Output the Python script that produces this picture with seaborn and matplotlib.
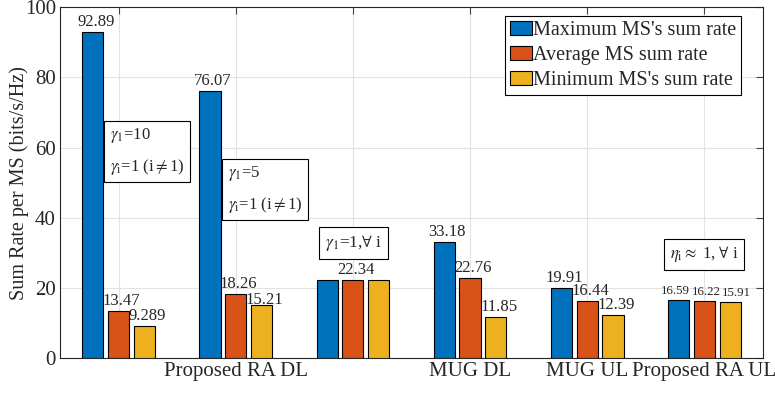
import matplotlib
matplotlib.use("Agg")
import matplotlib.pyplot as plt
import seaborn as sns
import pandas as pd

# Scenario groups and per-MS sum rates
groups = ["g1", "g2", "g3", "g4", "g5", "g6"]
tick_labels = ["", "Proposed RA DL", "", "MUG DL", "MUG UL", "Proposed RA UL"]
series = ["Maximum MS's sum rate", "Average MS sum rate", "Minimum MS's sum rate"]
max_rate = [92.89, 76.07, 22.34, 33.18, 19.91, 16.59]
avg_rate = [13.47, 18.26, 22.34, 22.76, 16.44, 16.22]
min_rate = [9.289, 15.21, 22.34, 11.85, 12.39, 15.91]
label_text = [
    ["92.89", "76.07", "", "33.18", "19.91", "16.59"],
    ["13.47", "18.26", "22.34", "22.76", "16.44", "16.22"],
    ["9.289", "15.21", "", "11.85", "12.39", "15.91"],
]
colors = ["#0072BD", "#D95319", "#EDB120"]

df = pd.DataFrame({
    "group": groups * 3,
    "series": [s for s in series for _ in groups],
    "rate": max_rate + avg_rate + min_rate,
})

sns.set_style("white")
plt.rcParams["font.family"] = ["Liberation Serif", "DejaVu Serif"]
plt.rcParams["mathtext.fontset"] = "stix"

fig = plt.figure(figsize=(7.75, 3.95), dpi=100)
ax = fig.add_axes([0.0774, 0.093, 0.907, 0.8885])

sns.barplot(data=df, x="group", y="rate", hue="series", hue_order=series,
            palette=colors, saturation=1, width=0.66, gap=0.18,
            edgecolor="black", linewidth=0.8, ax=ax, zorder=3)

# value labels on the bars (offsets in points from the bar top centre);
# the last group's labels are smaller and spread apart
last_dx = [-2.1, 1.4, 4.2]
for si, (container, texts) in enumerate(zip(ax.containers, label_text)):
    for gi, (rect, txt) in enumerate(zip(container, texts)):
        if not txt:
            continue
        fs, dx, dy = 12, 2.1, 4.3
        if gi == 5:
            fs, dx = 9.3, last_dx[si]
        if (si, gi) == (2, 1):
            dy = 0.7
        ax.annotate(txt, (rect.get_x() + rect.get_width() / 2, rect.get_height()),
                    xytext=(dx, dy), textcoords="offset points",
                    ha="center", va="baseline", fontsize=fs, zorder=5)

ax.set_xlim(-0.5, 5.5)
ax.set_ylim(0, 100)
ax.set_yticks([0, 20, 40, 60, 80, 100])
ax.set_xticks(range(6))
ax.set_xticklabels(tick_labels, fontsize=15)
ax.tick_params(axis="y", labelsize=15)
ax.set_xlabel("")
ax.set_ylabel("Sum Rate per MS (bits/s/Hz)", fontsize=14.5, labelpad=-3)

ax.grid(True, color="#e3e3e3", linewidth=0.8, zorder=0)
ax.set_axisbelow(True)
ax.tick_params(direction="in", top=True, right=True, length=5, width=0.8,
               color="#444444", pad=3)
for sp in ax.spines.values():
    sp.set_visible(True)
    sp.set_color("#262626")
    sp.set_linewidth(0.8)

leg = ax.legend(loc="upper right", bbox_to_anchor=(0.969, 0.975), fontsize=14.5,
                frameon=True, fancybox=False, edgecolor="black", framealpha=1,
                handlelength=1.1, handleheight=0.65, handletextpad=0.05,
                labelspacing=0.3, borderpad=0.25, borderaxespad=0)
leg.get_frame().set_linewidth(0.8)

box = dict(boxstyle="square,pad=0.35", facecolor="white", edgecolor="black",
           linewidth=0.8)
ax.text(0.246, 58.9, "$\\gamma_1$=10\n$\\gamma_{\\mathrm{i}}$=1 (i$\\neq$1)",
        fontsize=12, ha="center", va="center", multialignment="left",
        linespacing=1.8, bbox=box, zorder=6)
ax.text(1.249, 48.1, "$\\gamma_1$=5\n$\\gamma_{\\mathrm{i}}$=1 (i$\\neq$1)",
        fontsize=12, ha="center", va="center", multialignment="left",
        linespacing=1.8, bbox=box, zorder=6)
ax.text(2.005, 32.8, "$\\gamma_1$=1,$\\forall$ i",
        fontsize=12.5, ha="center", va="center", bbox=box, zorder=6)
ax.text(4.996, 29.6, "$\\eta_{\\mathrm{i}}$$\\approx$ 1, $\\forall$ i",
        fontsize=12, ha="center", va="center", bbox=box, zorder=6)

fig.savefig("out.png", dpi=100)
